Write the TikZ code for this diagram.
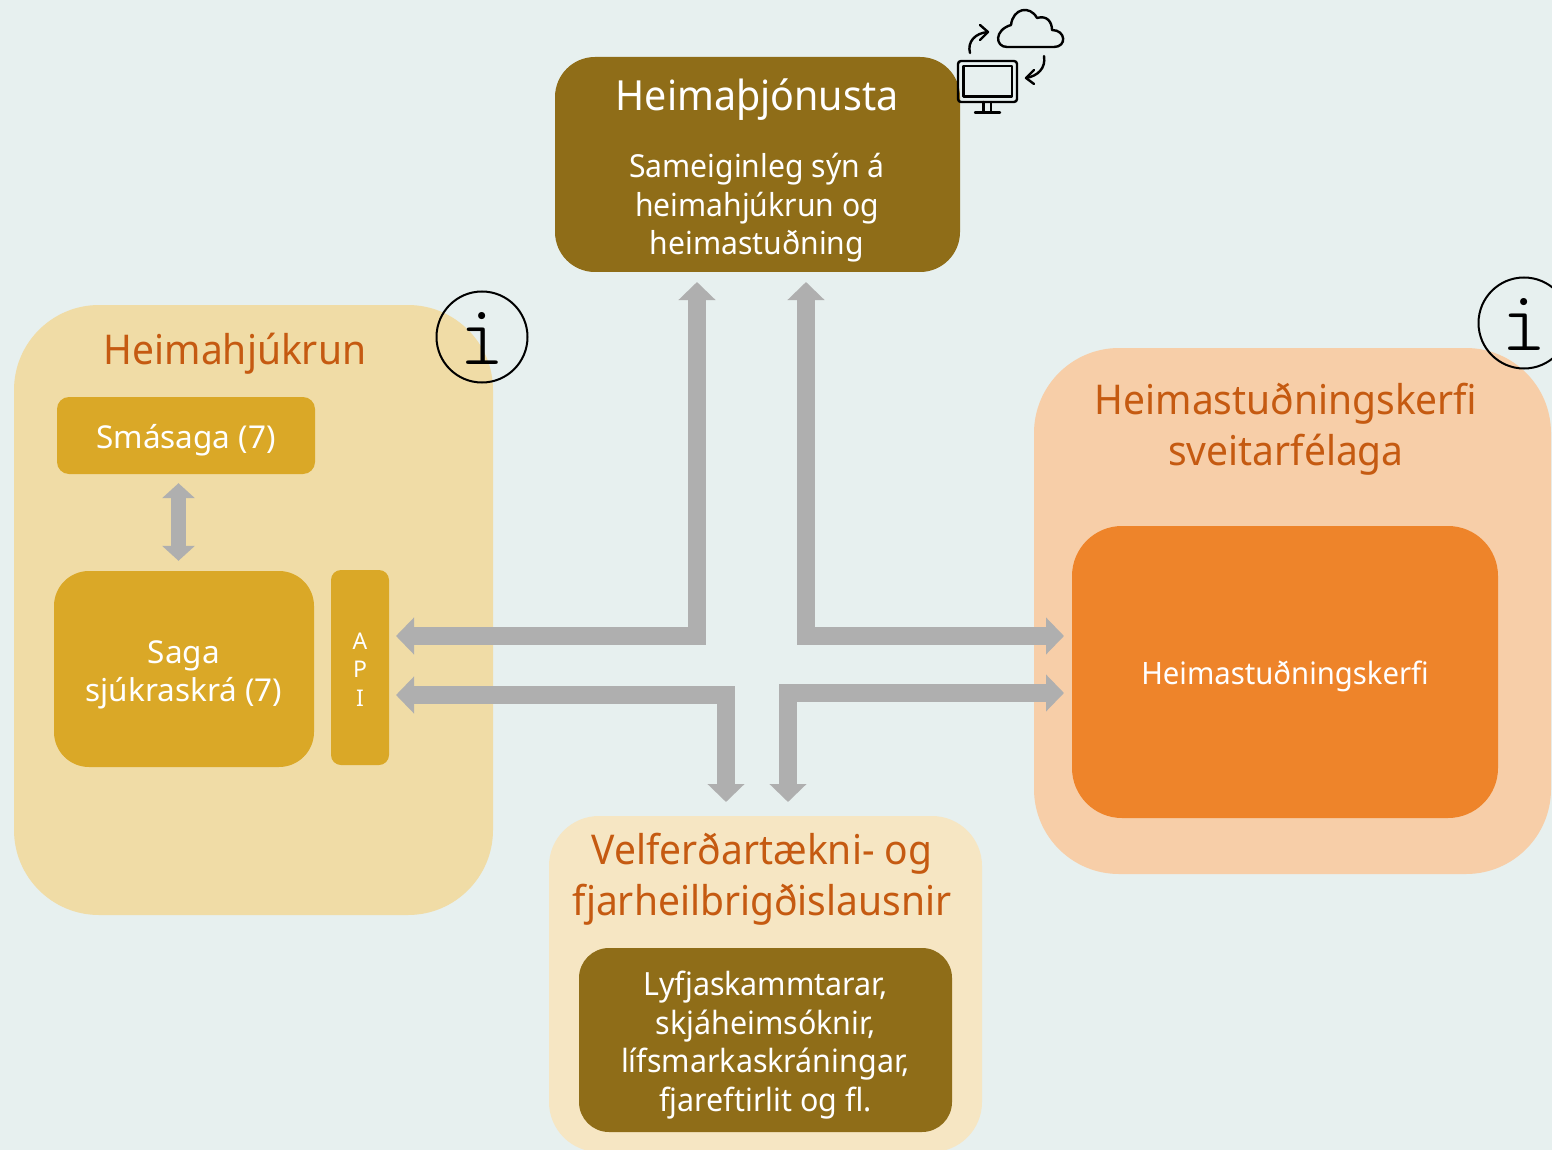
\documentclass[tikz,border=0pt]{standalone}
\usepackage{fontspec}
\setmainfont{Noto Sans}
\newfontfamily\narrowfont[FakeStretch=0.95]{Noto Sans}
\usetikzlibrary{arrows.meta}
\definecolor{bgcol}{HTML}{E7F0EF}
\definecolor{hjukcol}{HTML}{F0DCA6}
\definecolor{sagacol}{HTML}{DAA827}
\definecolor{olivecol}{HTML}{8F6D18}
\definecolor{peachcol}{HTML}{F7CEA8}
\definecolor{orangecol}{HTML}{EE842A}
\definecolor{velfcol}{HTML}{F6E6C3}
\definecolor{titlecol}{HTML}{C55A11}
\definecolor{flowcol}{HTML}{AFAFAF}
\tikzset{
  box/.style 2 args = {draw=none, fill=#1, rounded corners=#2, inner sep=0pt},
  boxtext/.style = {text=white, align=center, inner sep=0pt},
  panel title/.style = {text=titlecol, align=center, inner sep=0pt, font=\narrowfont\fontsize{41}{51}\selectfont},
  flow/.style = {draw=flowcol, line width=18pt, {Triangle[width=36pt,length=18pt]}-{Triangle[width=36pt,length=18pt]}},
  infomark/.style = {circle, draw=black, line width=2pt, minimum size=91pt, inner sep=0pt},
  infoletter/.style = {inner sep=0pt, font=\ttfamily\fontseries{l}\fontsize{86}{86}\selectfont},
  iconline/.style = {draw=black, line width=2.4pt, line cap=round, line join=round},
}
\begin{document}
\begin{tikzpicture}[x=1pt,y=-1pt]
    \useasboundingbox (0,0) rectangle (1552,1150);
    \fill[bgcol] (0,0) rectangle (1552,1150);

    % panels
    \node[box={hjukcol}{85pt}, minimum width=479pt, minimum height=610pt] (hjukrun) at (253.5,610) {};
    \node[box={peachcol}{85pt}, minimum width=517pt, minimum height=526pt] (studn) at (1292.5,611) {};
    \node[box={velfcol}{50pt}, minimum width=433pt, minimum height=336pt] (velf) at (765.5,984) {};

    % boxes
    \node[box={olivecol}{40pt}, minimum width=405pt, minimum height=215pt] (thjon) at (757.5,164.5) {};
    \node[box={sagacol}{12pt}, minimum width=258pt, minimum height=77pt] (smasaga) at (186,435.5) {};
    \node[box={sagacol}{35pt}, minimum width=260pt, minimum height=196pt] (saga) at (184,669) {};
    \node[box={sagacol}{10pt}, minimum width=58pt, minimum height=195pt] (api) at (360,667.5) {};
    \node[box={orangecol}{50pt}, minimum width=426pt, minimum height=292pt] (studnkerfi) at (1285,672) {};
    \node[box={olivecol}{30pt}, minimum width=373pt, minimum height=184pt] (lausnir) at (765.5,1040) {};

    % texts
    \node[boxtext, font=\fontsize{31.5}{38}\selectfont] (smasagatext) at ([yshift=-5pt]smasaga.center) {Smásaga (7)};
    \node[boxtext, font=\fontsize{31.5}{38}\selectfont] (sagatext) at ([yshift=-6pt]saga.center) {Saga\\sjúkraskrá (7)};
    \node[boxtext, font=\fontsize{23}{28.5}\selectfont] (apitext) at ([yshift=-2pt]api.center) {A\\P\\I};
    \node[boxtext, font=\narrowfont\fontsize{30.8}{38}\selectfont] (studnkerfitext) at ([yshift=-4pt]studnkerfi.center) {Heimastuðningskerfi};
    \node[boxtext, font=\narrowfont\fontsize{32}{38.5}\selectfont] (lausnirtext) at ([yshift=-5pt]lausnir.center) {Lyfjaskammtarar,\\skjáheimsóknir,\\lífsmarkaskráningar,\\fjareftirlit og fl.};
    \node[boxtext, font=\narrowfont\fontsize{41.5}{50}\selectfont] (thjontitle) at (757,100) {Heimaþjónusta};
    \node[boxtext, font=\narrowfont\fontsize{31.7}{38.5}\selectfont] (thjontext) at (757,208) {Sameiginleg sýn á\\heimahjúkrun og\\heimastuðning};
    \node[panel title] (hjuktitle) at (235,354) {Heimahjúkrun};
    \node[panel title] (studntitle) at (1286,429) {Heimastuðningskerfi\\sveitarfélaga};
    \node[panel title] (velftitle) at (762,879) {Velferðartækni- og\\fjarheilbrigðislausnir};

    % info marks
    \node[infomark] (infoa) at (482,337) {};
    \node[infoletter] at ([yshift=-1pt]infoa.center) {i};
    \node[infomark] (infob) at (1524,323) {};
    \node[infoletter] at ([yshift=-1pt]infob.center) {i};

    % connector ends
    \coordinate (thjona) at (697,282);
    \coordinate (thjonb) at (806,282);
    \coordinate (apia) at (396,636);
    \coordinate (apib) at (396,695);
    \coordinate (studna) at (1064,636);
    \coordinate (studnb) at (1064,693);
    \coordinate (velfa) at (726,802);
    \coordinate (velfb) at (788,802);

    \draw[flow] (thjona) |- (apia);
    \draw[flow] (thjonb) |- (studna);
    \draw[flow] (apib) -| (velfa);
    \draw[flow] (studnb) -| (velfb);
    \draw[draw=flowcol, line width=15pt, {Triangle[width=32pt,length=15pt]}-{Triangle[width=32pt,length=15pt]}]
      ([xshift=-7.5pt,yshift=-9pt]smasaga.south) -- ([xshift=-5.5pt,yshift=10pt]saga.north);

    % icon
    \draw[iconline, rounded corners=3pt] (958,61) rectangle (1017,102);
    \draw[iconline] (963.5,66) rectangle (1012,96.5);
    \draw[iconline] (983.5,102) -- (983.5,112) (991,102) -- (991,112) (975,112.5) -- (1000,112.5);
    \draw[iconline] (1007,47) .. controls (995,47) and (994,30) .. (1011,25)
      .. controls (1013,8) and (1030,5) .. (1037,18)
      .. controls (1047,15) and (1052,22) .. (1052,30)
      .. controls (1066,30) and (1067,47) .. (1054,47) -- cycle;
    \draw[iconline] (970,53) .. controls (967,42) and (975,33) .. (988,32);
    \draw[iconline] (980,25) -- (988,32) -- (980,40);
    \draw[iconline] (1044,56) .. controls (1046,68) and (1038,76) .. (1026,78);
    \draw[iconline] (1034,70) -- (1026,78) -- (1034,84);
  \end{tikzpicture}
\end{document}
